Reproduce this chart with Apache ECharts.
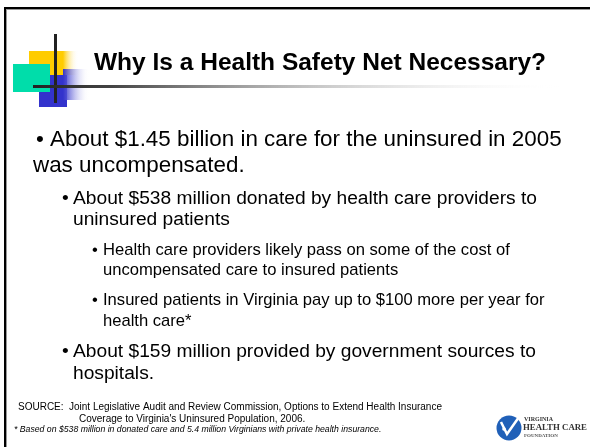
<!DOCTYPE html>
<html>
<head>
<meta charset="utf-8">
<script src="https://cdn.jsdelivr.net/npm/echarts@6/dist/echarts.min.js"></script>
<style>
html, body { margin: 0; padding: 0; background: #fff; }
#chart { width: 590px; height: 447px; }
</style>
</head>
<body>
<div id="chart"></div>
<script>
// slide texts
var title = 'Why Is a Health Safety Net Necessary?';
var level1 = ['About $1.45 billion in care for the uninsured in 2005', 'was uncompensated.'];
var level2a = ['About $538 million donated by health care providers to', 'uninsured patients'];
var level3a = ['Health care providers likely pass on some of the cost of', 'uncompensated care to insured patients'];
var level3b = ['Insured patients in Virginia pay up to $100 more per year for', 'health care*'];
var level2b = ['About $159 million provided by government sources to', 'hospitals.'];
var source = ['SOURCE:', 'Joint Legislative Audit and Review Commission, Options to Extend Health Insurance', 'Coverage to Virginia\'s Uninsured Population, 2006.'];
var footnote = '* Based on $538 million in donated care and 5.4 million Virginians with private health insurance.';
var logoText = ['VIRGINIA', 'HEALTH CARE', 'FOUNDATION'];

var SANS = '"Liberation Sans", Arial, sans-serif';
var SERIF = '"Liberation Serif", "DejaVu Serif", serif';

function txt(s, x, y, font, extra) {
    var style = { text: s, font: font, fill: '#000', verticalAlign: 'middle', align: 'left' };
    if (extra) for (var k in extra) style[k] = extra[k];
    return { type: 'text', x: x, y: y, z: 10, style: style };
}
function rect(x, y, w, h, fill, z) {
    return { type: 'rect', shape: { x: x, y: y, width: w, height: h }, style: { fill: fill }, z: z };
}
function fade(c) {
    return new echarts.graphic.LinearGradient(0, 0, 1, 0, [
        { offset: 0, color: c }, { offset: 1, color: 'rgba(255,255,255,0)' }
    ]);
}

var chart = echarts.init(document.getElementById('chart'));
var els = [];

// frame (top and left)
els.push(rect(4, 7, 586, 2, '#000', 1));
els.push(rect(6, 9, 584, 1, '#999', 1));
els.push(rect(4, 7, 2, 440, '#000', 1));
els.push(rect(6, 9, 1, 438, '#999', 1));

// top-left decoration
els.push(rect(39, 75, 28, 32, '#3333CC', 2));
els.push(rect(29, 51, 34, 24, '#FFCC00', 3));
els.push(rect(63, 51, 15, 24, fade('#FFCC00'), 3));
els.push(rect(63, 69, 26, 31, fade('#3333CC'), 4));
els.push(rect(13, 64, 37, 28, '#00DDAA', 5));
els.push(rect(54, 34, 3, 69, '#222', 6));
els.push({
    type: 'rect', z: 6,
    shape: { x: 33, y: 85, width: 530, height: 3 },
    style: { fill: new echarts.graphic.LinearGradient(0, 0, 1, 0, [
        { offset: 0, color: '#222' }, { offset: 0.15, color: '#444' }, { offset: 1, color: 'rgba(255,255,255,0)' }
    ]) }
});

// title
els.push(txt(title, 94, 63.5, 'bold 24.5px ' + SANS));

// bullets
var f1 = '22.4px ' + SANS, f2 = '19.2px ' + SANS, f3 = '16.6px ' + SANS;
els.push(txt('\u2022', 36, 139.5, f1));
els.push(txt(level1[0], 50, 139.5, f1));
els.push(txt(level1[1], 33, 165.5, f1));

els.push(txt('\u2022', 62, 198.5, f2));
els.push(txt(level2a[0], 73, 198.5, f2));
els.push(txt(level2a[1], 73, 220, f2));

els.push(txt('\u2022', 92, 250.5, f3));
els.push(txt(level3a[0], 103, 250.5, f3));
els.push(txt(level3a[1], 103, 270.5, f3));

els.push(txt('\u2022', 92, 300.5, f3));
els.push(txt(level3b[0], 103, 300.5, f3));
els.push(txt(level3b[1], 103, 321, f3));

els.push(txt('\u2022', 62, 352, f2));
els.push(txt(level2b[0], 73, 352, f2));
els.push(txt(level2b[1], 73, 373.5, f2));

// source and footnote
els.push(txt(source[0], 18, 407, '10px ' + SANS));
els.push(txt(source[1], 69, 407, '10px ' + SANS));
els.push(txt(source[2], 79, 419, '10px ' + SANS));
els.push(txt(footnote, 14, 430, 'italic 8.7px ' + SANS));

// foundation logo
els.push({ type: 'circle', z: 8, shape: { cx: 509, cy: 428, r: 12.5 }, style: { fill: '#2060B8' } });
els.push({ type: 'polyline', z: 9, shape: { points: [[501, 422], [507, 434], [519, 417]] },
    style: { stroke: '#fff', lineWidth: 2.5, fill: null } });
els.push({ type: 'circle', z: 9, shape: { cx: 504, cy: 429, r: 1.8 }, style: { fill: '#fff' } });
els.push(txt(logoText[0], 524, 419.5, 'bold 6px ' + SERIF, { fill: '#333' }));
els.push(txt(logoText[1], 523, 428, 'bold 8.8px ' + SERIF, { fill: '#333' }));
els.push(txt(logoText[2], 524, 436, 'bold 5px ' + SERIF, { fill: '#555' }));

chart.setOption({
    animation: false,
    graphic: { elements: els }
});
</script>
</body>
</html>
